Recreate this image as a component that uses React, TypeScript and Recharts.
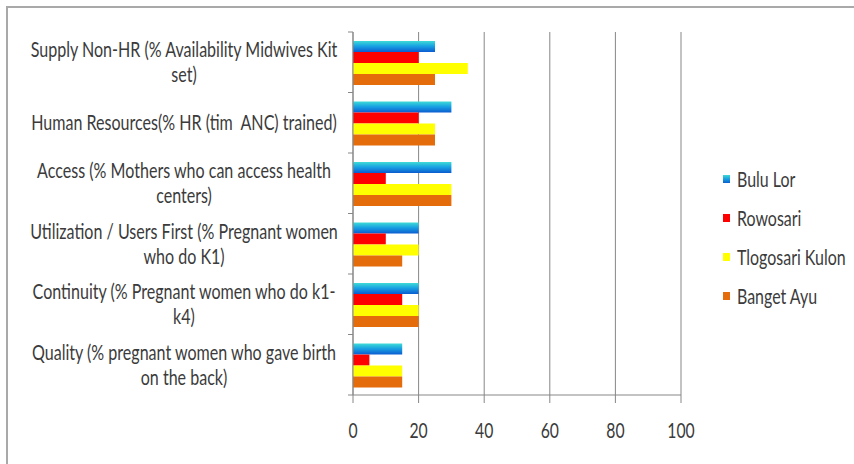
import { BarChart, Bar, XAxis, YAxis, CartesianGrid } from 'recharts'

const categories = [
  'Supply Non-HR (% Availability Midwives Kit\nset)',
  'Human Resources(% HR (tim  ANC) trained)',
  'Access (% Mothers who can access health\ncenters)',
  'Utilization / Users First (% Pregnant women\nwho do K1)',
  'Continuity (% Pregnant women who do k1-\nk4)',
  'Quality (% pregnant women who gave birth\non the back)',
]
const buluLor = [25, 30, 30, 20, 20, 15]
const rowosari = [20, 20, 10, 10, 15, 5]
const tlogosariKulon = [35, 25, 30, 20, 20, 15]
const bangetAyu = [25, 25, 30, 15, 20, 15]
const xTicks = [0, 20, 40, 60, 80, 100]

const seriesNames = ['Bulu Lor', 'Rowosari', 'Tlogosari Kulon', 'Banget Ayu']

const data = categories.map((c, i) => ({
  name: c,
  'Bulu Lor': buluLor[i],
  'Rowosari': rowosari[i],
  'Tlogosari Kulon': tlogosariKulon[i],
  'Banget Ayu': bangetAyu[i],
}))

const W = 854
const H = 464
const X_AXIS_H = 30
const M = { top: 32, right: 173, bottom: 69 - X_AXIS_H, left: 0 }
const BAND = (H - M.top - M.bottom - X_AXIS_H) / categories.length
const FONT = 'Lato, "Open Sans", sans-serif'
const TEXT = '#3b3b3b'
const AXIS = '#878787'

function CatTick(props: any) {
  const { x, y, payload, index } = props
  const lines = String(payload.value).split('\n')
  const last = index === categories.length - 1
  return (
    <g>
      <line x1={x - 5} x2={x} y1={y - BAND / 2} y2={y - BAND / 2} stroke={AXIS} />
      {last && <line x1={x - 5} x2={x} y1={y + BAND / 2} y2={y + BAND / 2} stroke={AXIS} />}
      <g transform={`translate(${x - 169},${y})`}>
        <text transform="scale(0.765,1)" textAnchor="middle" fontFamily={FONT} fontSize={21} fill={TEXT} style={{ whiteSpace: 'pre' }}>
          {lines.map((l, i) => (
            <tspan key={i} x={0} y={(i - (lines.length - 1) / 2) * 25} dy="0.36em">{l}</tspan>
          ))}
        </text>
      </g>
    </g>
  )
}

function NumTick(props: any) {
  const { x, y, payload } = props
  return (
    <g transform={`translate(${x},${y})`}>
      <text transform="scale(0.75,1)" textAnchor="middle" dy="0.71em" fontFamily={FONT} fontSize={21} fill={TEXT}>
        {payload.value}
      </text>
    </g>
  )
}

const swatch: Record<string, string> = {
  'Bulu Lor': 'linear-gradient(#3dd9d6, #17a0e0 50%, #0b5fd0)',
  'Rowosari': '#ff0000',
  'Tlogosari Kulon': '#ffff00',
  'Banget Ayu': '#e46c0a',
}

function LegendBox() {
  return (
    <div style={{ position: 'absolute', left: 723, top: 159, width: 130, fontFamily: FONT, fontSize: 21, color: TEXT }}>
      {seriesNames.map(n => (
        <div key={n} style={{ height: 39, display: 'flex', alignItems: 'center' }}>
          <span style={{ width: 7, height: 8, flexShrink: 0, background: swatch[n], display: 'inline-block', marginRight: 7 }} />
          <span style={{ display: 'inline-block', transform: 'scaleX(0.76)', transformOrigin: 'left center', whiteSpace: 'nowrap' }}>{n}</span>
        </div>
      ))}
    </div>
  )
}

export default function App() {
  return (
    <div style={{ position: 'absolute', left: 0, top: 0, width: W, height: H, overflow: 'hidden', background: '#fff' }}>
      <div style={{ position: 'absolute', left: 6, top: 6, width: W + 20, height: H + 20, borderTop: '2px solid #a9a9a9', borderLeft: '2px solid #a9a9a9' }} />
      <div style={{ position: 'absolute', left: 0, top: 0 }}>
        <BarChart width={W} height={H} data={data} layout="vertical" margin={M} barGap={0} barCategoryGap="15%">
          <defs>
            <linearGradient id="buluGrad" x1="0" y1="0" x2="0" y2="1">
              <stop offset="0%" stopColor="#3fdad6" />
              <stop offset="45%" stopColor="#18a2e2" />
              <stop offset="100%" stopColor="#0b5bd0" />
            </linearGradient>
          </defs>
          <CartesianGrid horizontal={false} stroke={AXIS} ticks={xTicks} />
          <XAxis type="number" domain={[0, 100]} ticks={xTicks} height={X_AXIS_H} tickSize={8} tickMargin={20}
            axisLine={{ stroke: AXIS }} tickLine={{ stroke: AXIS }} tick={<NumTick />} interval={0} />
          <YAxis type="category" dataKey="name" width={353} tickSize={0} tickMargin={0}
            axisLine={{ stroke: AXIS }} tickLine={false} tick={<CatTick />} interval={0} />
          <Bar dataKey="Bulu Lor" fill="url(#buluGrad)" isAnimationActive={false} />
          <Bar dataKey="Rowosari" fill="#ff0000" isAnimationActive={false} />
          <Bar dataKey="Tlogosari Kulon" fill="#ffff00" isAnimationActive={false} />
          <Bar dataKey="Banget Ayu" fill="#e46c0a" isAnimationActive={false} />
        </BarChart>
      </div>
      <LegendBox />
    </div>
  )
}
